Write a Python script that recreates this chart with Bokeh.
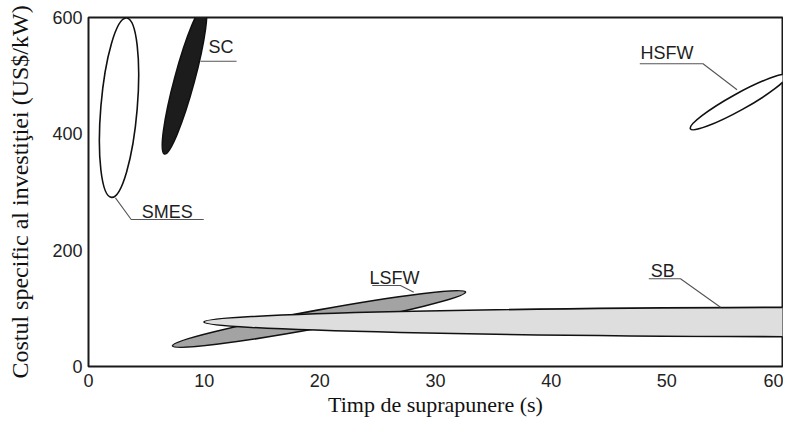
from bokeh.plotting import figure
from bokeh.models import Range1d, FixedTicker
from bokeh.core.properties import value
from bokeh.embed import file_html
from bokeh.resources import INLINE

# ---- data ----
technologies = ["SMES", "SC", "HSFW", "LSFW", "SB"]
center_time = [2.64, 8.30, 56.19, 19.93, 67.9]       # s
center_cost = [445, 493, 454.4, 81.7, 76.5]          # US$/kW

x_ticks = [0, 10, 20, 30, 40, 50, 60]
y_ticks = [0, 200, 400, 600]

# label anchor positions (data units)
label_time = [4.6, 10.37, 47.72, 24.3, 48.6]
label_cost = [266, 550, 539, 152.7, 164.7]

# leader lines (data units)
leader_time = [[2.33, 3.69, 9.96], [9.68, 12.8], [47.66, 53.13, 56.07],
               [24.53, 26.97, 28.12], [48.44, 51.18, 54.64]]
leader_cost = [[290, 252.7, 252.7], [524.8, 524.8], [520.4, 520.4, 475.7],
               [139.2, 139.2, 127.7], [150.8, 150.8, 101.9]]

# ---- styles (screen sizes of the regions) ----
ell_w = [180, 153.8, 109.8, 298, 1340]
ell_h = [36.4, 20, 16.5, 18, 29.6]
ell_angle = [85.2, 74.9, 29.0, 10.4, 0.0]
ell_fill = ["white", "#1c1c1c", "white", "#a3a3a3", "#dedede"]
draw_order = [3, 4, 0, 1, 2]

p = figure(width=783, height=419, output_backend="svg", toolbar_location=None,
           x_range=Range1d(0, 60), y_range=Range1d(0, 600),
           min_border_left=88, min_border_right=1, min_border_top=17,
           min_border_bottom=53)

p.xgrid.visible = False
p.ygrid.visible = False
p.outline_line_color = "#1a1a1a"
p.outline_line_width = 2

for i in draw_order:
    p.ellipse(x=[center_time[i]], y=[center_cost[i]], width=[ell_w[i]],
              height=[ell_h[i]], angle=[ell_angle[i]], angle_units="deg",
              width_units="screen", height_units="screen",
              fill_color=ell_fill[i], line_color="#111111", line_width=1.6)

p.multi_line(xs=leader_time, ys=leader_cost, line_color="#555555", line_width=1.1)

p.text(x=label_time, y=label_cost, text=technologies,
       text_font=value("Liberation Sans"), text_font_size="18px",
       text_color="#1e1e1e", text_baseline="alphabetic", text_align="left")

for ax in (p.xaxis[0], p.yaxis[0]):
    ax.axis_line_color = None
    ax.major_tick_line_color = None
    ax.minor_tick_line_color = None
    ax.major_tick_out = 0
    ax.major_tick_in = 0
    ax.major_label_text_font = "Liberation Sans"
    ax.major_label_text_font_size = "18px"
    ax.major_label_text_color = "#222222"
    ax.axis_label_text_font = "Liberation Serif"
    ax.axis_label_text_font_style = "normal"
    ax.axis_label_text_color = "#111111"

p.xaxis.axis_label_text_font_size = "22px"
p.yaxis.axis_label_text_font_size = "24px"
p.xaxis.ticker = FixedTicker(ticks=x_ticks)
p.yaxis.ticker = FixedTicker(ticks=y_ticks)
p.xaxis.major_label_standoff = 7
p.yaxis.major_label_standoff = 6
p.xaxis.axis_label = "Timp de suprapunere (s)"
p.yaxis.axis_label = "Costul specific al investiţiei (US$/kW)"
p.xaxis.axis_label_standoff = 2
p.yaxis.axis_label_standoff = 16

open("out.html", "w").write(file_html(p, INLINE))
